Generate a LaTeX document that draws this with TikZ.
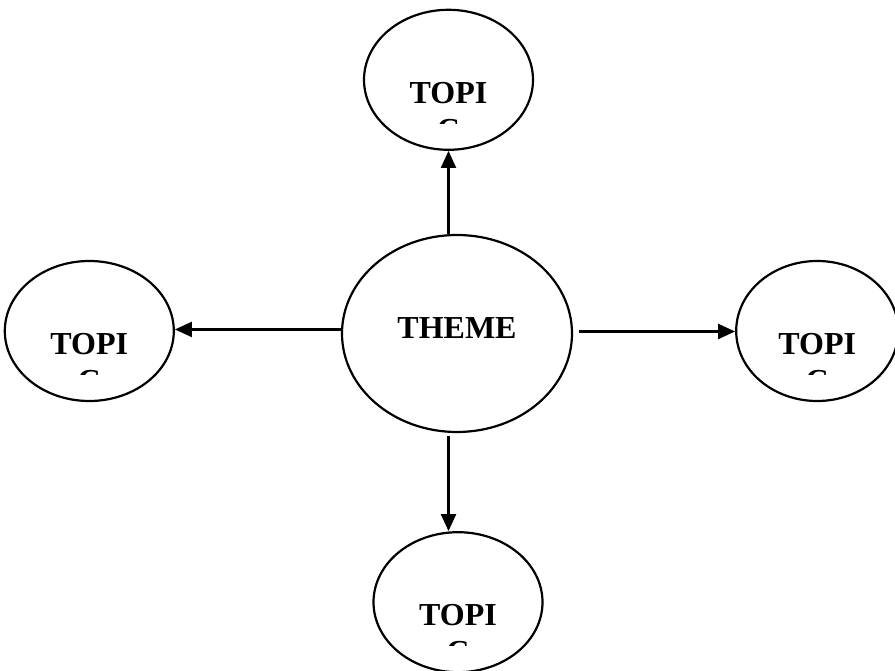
\documentclass[tikz,border=0pt]{standalone}
\usepackage{fontspec}
\setmainfont{Liberation Serif}
\usetikzlibrary{arrows.meta,positioning,shapes.geometric}

\tikzset{
  bubble/.style={draw, ellipse, inner sep=0pt,
    font=\bfseries\fontsize{32}{38}\selectfont},
  % topic bubble: the second line of the word is cut off by its frame
  topic/.style={bubble, minimum width=169pt, minimum height=140pt,
    text height=47pt, text depth=0pt,
    path picture={
      \begin{scope}
      \clip ([xshift=-40pt,yshift=-20pt]path picture bounding box.center)
        rectangle ([xshift=40pt,yshift=-43.5pt]path picture bounding box.center);
      \node[rectangle, draw=none, inner sep=0pt, minimum width=0pt, minimum height=0pt,
        text height=22pt, text depth=0pt, anchor=base,
        font=\bfseries\fontsize{32}{38}\selectfont]
        at ([yshift=-60.6pt]path picture bounding box.center) {C};
      \end{scope}}},
}

\begin{document}
\begin{tikzpicture}[>={Triangle[length=17pt,width=15pt]}, line width=2.2pt]

\useasboundingbox (0,0) rectangle (895pt,670pt);

\node(theme)[bubble, minimum width=230pt, minimum height=197pt,
  text height=22pt, text depth=12.8pt] at (457pt,336.5pt) {THEME};

\node(top)[topic, above=83pt of theme, xshift=-8.5pt]{TOPI};

\node(left)[topic, left=166pt of theme, yshift=2.5pt]{TOPI};

\node(right)[topic, minimum width=162pt, right=162pt of theme, yshift=2.5pt]{TOPI};

\node(bottom)[topic, below=98pt of theme, xshift=1pt]{TOPI};

\draw [->] (top |- theme.north) -- (top.south);

\draw [->] (theme.178) -- (theme.178 -| left.east);

\draw [->, shorten <=6pt] (theme.1) -- (theme.1 -| right.west);

\draw [->, shorten <=3pt] (top |- theme.south) -- (top |- bottom.north);

\end{tikzpicture}
\end{document}
